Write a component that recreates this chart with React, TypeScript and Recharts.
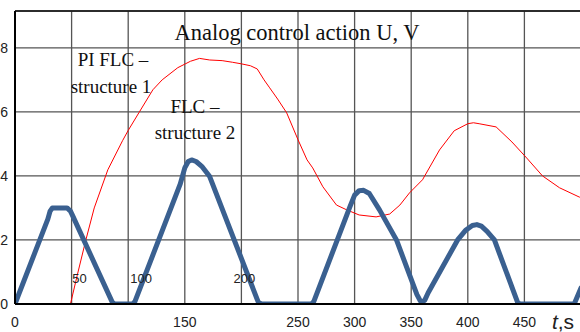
import { LineChart, Line, XAxis, YAxis, CartesianGrid, ReferenceLine } from "recharts";

// time axis, seconds
const timeTicks = [0, 50, 100, 150, 200, 250, 300, 350, 400, 450];
const voltTicks = [0, 2, 4, 6, 8];
const T_MAX = 500;
const U_MAX = 9.15;

// PI FLC, structure 1 (thin red trace)
const piTime = [0, 49, 55, 62.6, 70, 82, 95, 100, 109.4, 121.8, 130, 143.8, 155, 163, 172, 183, 192, 200, 208, 214, 220, 225, 232, 240, 250, 258, 263, 272, 284, 293, 304, 319, 331, 340, 348.5, 360, 375, 388, 400, 405, 410, 425, 439, 452, 466, 481, 498.5, 500];
const piVolt = [0, 0, 0.9, 2.0, 3.0, 4.19, 5.1, 5.42, 5.97, 6.69, 7.0, 7.38, 7.58, 7.67, 7.62, 7.6, 7.55, 7.5, 7.44, 7.34, 7.0, 6.75, 6.4, 5.97, 5.13, 4.5, 4.25, 3.66, 3.09, 2.94, 2.78, 2.72, 2.81, 3.09, 3.47, 3.88, 4.81, 5.41, 5.63, 5.66, 5.63, 5.53, 5.06, 4.56, 4.0, 3.63, 3.34, 3.32];

// FLC, structure 2 (thick blue trace)
const flcTime = [0, 29, 31, 33, 46, 49, 51, 86, 88, 104, 106, 146, 150, 153, 156, 160, 165, 172, 215, 218, 262, 264, 296, 300, 304, 308, 313, 322, 337, 355, 358, 360, 362, 365, 391, 398, 404, 408, 412, 417, 423.5, 444, 446, 494, 500];
const flcVolt = [0, 2.65, 2.9, 3.0, 3.0, 2.9, 2.75, 0.05, 0, 0, 0.08, 3.75, 4.25, 4.45, 4.5, 4.45, 4.3, 3.98, 0.05, 0, 0, 0.08, 3.05, 3.4, 3.54, 3.55, 3.45, 2.94, 2.0, 0.3, 0.1, 0.07, 0.12, 0.35, 2.0, 2.3, 2.45, 2.48, 2.43, 2.27, 2.0, 0.05, 0, 0, 0.5];

const piData = piTime.map((t, i) => ({ t, u: piVolt[i] }));
const flcData = flcTime.map((t, i) => ({ t, u: flcVolt[i] }));

// some of the time labels sit up inside the plot next to their grid line
const raisedTickDx: Record<number, number> = { 50: 8, 100: 13, 200: 3 };

const SANS = "'Liberation Sans', Arial, sans-serif";
const SERIF = "'Liberation Serif', 'Times New Roman', serif";

function TimeTick(props: any) {
    const { x, y, payload } = props;
    const v = payload.value as number;
    if (v in raisedTickDx) {
        return (
            <text x={x + raisedTickDx[v]} y={y - 21} textAnchor="middle" fontSize={13} fontFamily={SANS} fill="#222">
                {v}
            </text>
        );
    }
    return (
        <text x={x} y={y + 23} textAnchor="middle" fontSize={14} fontFamily={SANS} fill="#222">
            {v}
        </text>
    );
}

function VoltTick(props: any) {
    const { y, payload } = props;
    return (
        <text x={8} y={y + 5} textAnchor="end" fontSize={14} fontFamily={SANS} fill="#222">
            {payload.value}
        </text>
    );
}

export default function App() {
    return (
        <div style={{ position: "absolute", left: 0, top: 0, width: 580, height: 332, overflow: "hidden", background: "#fff" }}>
            <LineChart width={600} height={332} margin={{ top: 11, right: 19, bottom: 0, left: 0 }}>
                <CartesianGrid stroke="#555" strokeWidth={1.3} />
                <XAxis
                    type="number"
                    dataKey="t"
                    domain={[0, T_MAX]}
                    ticks={timeTicks}
                    height={28}
                    tickSize={0}
                    tickMargin={0}
                    tickLine={false}
                    axisLine={{ stroke: "#000", strokeWidth: 2 }}
                    tick={<TimeTick />}
                    interval={0}
                    allowDataOverflow
                />
                <YAxis
                    type="number"
                    domain={[0, U_MAX]}
                    ticks={voltTicks}
                    width={15}
                    tickSize={0}
                    tickLine={false}
                    axisLine={{ stroke: "#000", strokeWidth: 2 }}
                    tick={<VoltTick />}
                    interval={0}
                    allowDataOverflow
                />
                <ReferenceLine y={U_MAX} stroke="#111" strokeWidth={1.5} />
                <Line
                    data={piData}
                    dataKey="u"
                    type="linear"
                    stroke="#ff0000"
                    strokeWidth={1}
                    dot={false}
                    isAnimationActive={false}
                />
                <Line
                    data={flcData}
                    dataKey="u"
                    type="linear"
                    stroke="#3a6090"
                    strokeWidth={5}
                    strokeLinejoin="round"
                    strokeLinecap="round"
                    dot={false}
                    isAnimationActive={false}
                />
            </LineChart>
            <svg width={580} height={332} style={{ position: "absolute", left: 0, top: 0, pointerEvents: "none" }}>
                <text x={297} y={40} textAnchor="middle" fontSize={22.5} fontFamily={SERIF} fill="#111">
                    Analog control action U, V
                </text>
                <text x={113} y={66} textAnchor="middle" fontSize={19} fontFamily={SERIF} fill="#111">
                    PI FLC –
                </text>
                <text x={111} y={93} textAnchor="middle" fontSize={19} fontFamily={SERIF} fill="#111">
                    structure 1
                </text>
                <text x={195} y={113} textAnchor="middle" fontSize={19} fontFamily={SERIF} fill="#111">
                    FLC –
                </text>
                <text x={195} y={139} textAnchor="middle" fontSize={19} fontFamily={SERIF} fill="#111">
                    structure 2
                </text>
                <text x={563} y={329} textAnchor="middle" fontSize={21} fontFamily={SANS} fill="#222">
                    <tspan fontStyle="italic">t</tspan>,s
                </text>
            </svg>
        </div>
    );
}
